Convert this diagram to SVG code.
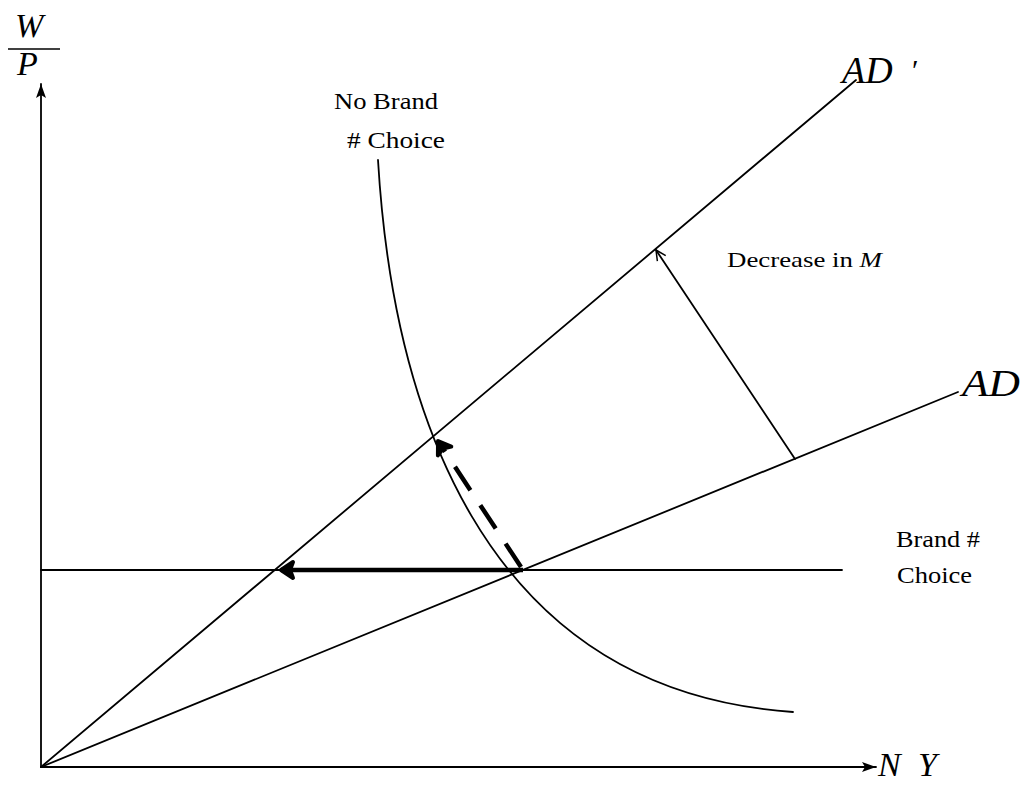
<svg xmlns="http://www.w3.org/2000/svg" width="1034" height="785" viewBox="0 0 1034 785">
<style>
.ln{stroke:#000;stroke-width:1.8;fill:none;stroke-linecap:round}
.thick{stroke:#000;stroke-width:4.5;fill:none}
text{font-family:"Times New Roman","Liberation Serif",Tinos,Times,serif;fill:#000}
.it{font-style:italic}
</style>
<defs>
<marker id="axh" markerWidth="16" markerHeight="12" refX="14" refY="6" orient="auto" markerUnits="userSpaceOnUse">
<path d="M0,1 L14,6 L0,11 L3,6 Z" fill="#000"/>
</marker>
<marker id="openh" markerWidth="14" markerHeight="14" refX="12" refY="7" orient="auto" markerUnits="userSpaceOnUse">
<path d="M2,2 L12,7 L2,12" fill="none" stroke="#000" stroke-width="1.5"/>
</marker>
<marker id="bold" markerWidth="24" markerHeight="24" refX="20" refY="12" orient="auto" markerUnits="userSpaceOnUse">
<path d="M8,4 L20,12 L8,20 L11,12 Z" fill="#000" stroke="#000" stroke-width="4" stroke-linejoin="round"/>
</marker>
</defs>
<g id="connectors">
<line id="y-axis" class="ln" x1="41" y1="767" x2="41" y2="84" marker-end="url(#axh)"/>
<line id="x-axis" class="ln" x1="41" y1="767" x2="876" y2="767" marker-end="url(#axh)"/>
<line id="ad-prime" class="ln" x1="41" y1="767" x2="856" y2="80"/>
<line id="ad" class="ln" x1="41" y1="767" x2="958" y2="392"/>
<line id="brand-choice" class="ln" x1="41" y1="570" x2="842" y2="570"/>
<path id="no-brand-choice" class="ln" d="M378,160 C392,395 475,690 793,712"/>
<line id="decrease-arrow" class="ln" x1="795" y1="459" x2="656" y2="250" marker-end="url(#openh)"/>
<line id="move-left" class="thick" x1="523" y1="570" x2="281" y2="570" marker-end="url(#bold)"/>
<line id="move-up" class="thick" x1="521" y1="567" x2="438" y2="441" stroke-dasharray="28,18" marker-end="url(#bold)"/>
</g>
<g id="label-wp">
<text class="it" x="15" y="37" font-size="34">W</text>
<line x1="8" y1="49" x2="60" y2="49" stroke="#000" stroke-width="1.5"/>
<text class="it" x="17" y="75" font-size="34">P</text>
</g>
<g id="label-ny">
<text class="it" x="878" y="776" font-size="34">N</text>
<text class="it" x="918" y="776" font-size="34">Y</text>
</g>
<g id="label-adprime">
<text class="it" x="842" y="83" font-size="38">AD</text>
<text x="912" y="80" font-size="30">′</text>
</g>
<g id="label-ad">
<text class="it" x="962" y="396" font-size="38" textLength="58" lengthAdjust="spacingAndGlyphs">AD</text>
</g>
<g id="label-nobrand">
<text x="334" y="109" font-size="24" textLength="104" lengthAdjust="spacingAndGlyphs">No Brand</text>
<text x="347" y="148" font-size="24" textLength="98" lengthAdjust="spacingAndGlyphs"># Choice</text>
</g>
<g id="label-decrease">
<text x="727" y="267" font-size="22" textLength="155" lengthAdjust="spacingAndGlyphs">Decrease in <tspan class="it">M</tspan></text>
</g>
<g id="label-brand">
<text x="896" y="547" font-size="23" textLength="84" lengthAdjust="spacingAndGlyphs">Brand #</text>
<text x="897" y="583" font-size="23" textLength="75" lengthAdjust="spacingAndGlyphs">Choice</text>
</g>
</svg>
